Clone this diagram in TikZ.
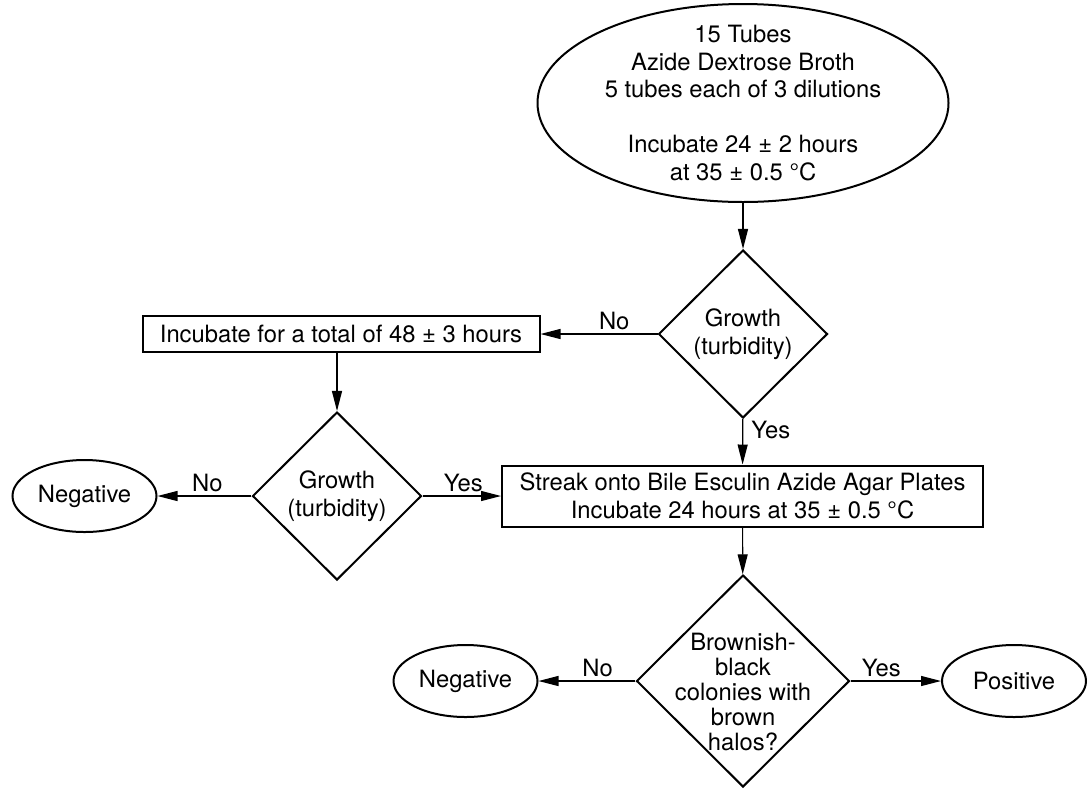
\documentclass[tikz,border=0pt]{standalone}
\usepackage{fontspec}
\setmainfont{TeX Gyre Heros}
\usetikzlibrary{shapes.geometric,arrows.meta}

\begin{document}
\begin{tikzpicture}[x=0.5pt,y=-0.5pt,
  >={Triangle[length=10pt,width=5pt]},
  every node/.style={font=\fontsize{11.9}{13.75}\selectfont},
  term/.style={draw,ellipse,line width=1pt,inner sep=0pt,minimum width=72pt,minimum height=36pt},
  box/.style={draw,rectangle,line width=1pt,align=center,inner sep=0pt},
  decision/.style={draw,diamond,line width=1pt,align=center,inner sep=0pt,minimum width=84.5pt,minimum height=84pt},
  flow/.style={->,line width=0.6pt},
  answer/.style={inner sep=2pt}]
\useasboundingbox (0,0) rectangle (1091,788);

% tubes
\node[term,minimum width=205.5pt,minimum height=99pt] (start) at (743,103) {};
\node[align=center] (starttxt) at (start) {15 Tubes\\Azide Dextrose Broth\\5 tubes each of 3 dilutions\\[13.75pt]Incubate 24 ± 2 hours\\at 35 ± 0.5 °C};

\node[decision] (grow1) at (743,334) {Growth\\(turbidity)};
\node[box,minimum width=198.5pt,minimum height=18pt] (total) at (341,334) {Incubate for a total of 48 ± 3 hours};
\node[decision] (grow2) at (337,496) {Growth\\(turbidity)};
\node[term] (neg1) at (84.5,496) {Negative};
\node[box,minimum width=240.5pt,minimum height=30.5pt] (streak) at (742.5,496) {Streak onto Bile Esculin Azide Agar Plates\\Incubate 24 hours at 35 ± 0.5 °C};

% plates
\node[decision,minimum width=106.5pt,minimum height=106pt] (colony) at (743,681) {};
\node[align=center,font=\fontsize{11.9}{12.6}\selectfont] (colonytxt) at (743,692) {Brownish-\\black\\colonies with\\brown\\halos?};
\node[term] (neg2) at (465.5,681) {Negative};
\node[term] (pos) at (1014,681) {Positive};

\draw[flow] (start) -- (grow1);
\draw[flow] (grow1) -- node[answer,above,pos=0.37] {No} (total);
\draw[flow] (total.south -| grow2) -- (grow2);
\draw[flow] (grow1) -- node[answer,right,pos=0.25,xshift=2pt] {Yes} (streak);
\draw[flow] (grow2) -- node[answer,above,pos=0.47] {No} (neg1);
\draw[flow] (grow2) -- node[answer,above,pos=0.52] {Yes} (streak);
\draw[flow] (streak) -- (colony);
\draw[flow] (colony) -- node[answer,above,pos=0.39] {No} (neg2);
\draw[flow] (colony) -- node[answer,above,pos=0.34] {Yes} (pos);
\end{tikzpicture}
\end{document}
